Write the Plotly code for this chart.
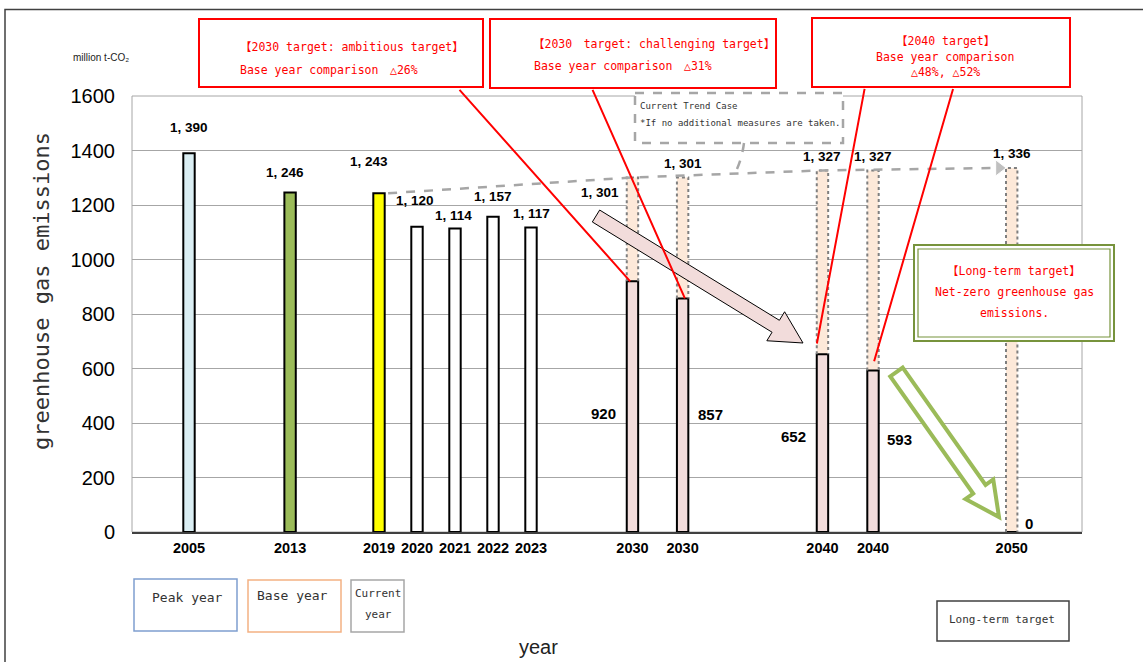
import math
import plotly.graph_objects as go

# ---------------- data ----------------
years = ["2005", "2013", "2019", "2020", "2021", "2022", "2023",
         "2030", "2030", "2040", "2040", "2050"]
emissions = [1390, 1246, 1243, 1120, 1114, 1157, 1117, 920, 857, 652, 593, 0]
trend_case = [1301, 1301, 1327, 1327, 1336]          # current trend case (2030, 2030, 2040, 2040, 2050)
trend_line_values = [1243, 1301, 1327, 1336]         # 2019 -> 2030 -> 2040 -> 2050
y_ticks = [0, 200, 400, 600, 800, 1000, 1200, 1400, 1600]

# ---------------- layout helpers (positions / styles) ----------------
slot = [1.5, 4.16, 6.5, 7.5, 8.5, 9.5, 10.5, 13.17, 14.49, 18.17, 19.5, 23.15]
trend_pos = slot[7:]
bar_fill = ["#DAEEF3", "#9BBB59", "#FFFF00", "#FFFFFF", "#FFFFFF", "#FFFFFF", "#FFFFFF",
            "#F2DCDB", "#F2DCDB", "#F2DCDB", "#F2DCDB", "#F2DCDB"]
BW = 0.3

W, H = 1143, 662
PL, PR, PT, PB = 132, 1082, 96, 532


def X(px):
    return (px - PL) / (PR - PL)


def Y(py):
    return (PB - py) / (PB - PT)


NUM = "Liberation Sans, Arial, sans-serif"
MONO = "DejaVu Sans Mono, Noto Sans CJK JP, monospace"
SANS = "Liberation Sans, Arial, sans-serif"
RED = "#FF0000"


def fmt(v):
    return f"{v // 1000}, {v % 1000:03d}" if v >= 1000 else str(v)


fig = go.Figure()

# trend-case background bars
fig.add_bar(x=trend_pos, y=trend_case, width=BW,
            marker=dict(color="#FDE9D9", line=dict(width=0), opacity=1),
            hoverinfo="skip")

# main bars
fig.add_bar(x=slot, y=emissions, width=BW,
            marker=dict(color=bar_fill, line=dict(color="#000000", width=2), opacity=1),
            hoverinfo="skip")

# dotted outlines of trend-case bars (from main bar top up to trend value)
ox, oy = [], []
for p, tv, mv in zip(trend_pos, trend_case, emissions[7:]):
    ox += [p - BW / 2, p - BW / 2, p + BW / 2, p + BW / 2, None]
    oy += [mv, tv, tv, mv, None]
fig.add_scatter(x=ox, y=oy, mode="lines",
                line=dict(color="#7F7F7F", width=2, dash="dot"),
                hoverinfo="skip", connectgaps=False)

# current trend line with arrow
tl_x = [slot[2] + 0.24, slot[7], slot[9], slot[11] - 0.33]
fig.add_scatter(x=tl_x, y=trend_line_values, mode="lines+markers",
                line=dict(color="#A6A6A6", width=2.5, dash="dash"),
                marker=dict(symbol=["circle", "circle", "circle", "triangle-right"],
                            size=[0, 0, 0, 14], color="#A6A6A6"),
                hoverinfo="skip")

annotations = []
LBL = dict(family=NUM, size=13.5, color="#000000", weight="bold")

# value labels above historical bars
top_shift = [(0, 26), (-5.5, 19.5), (-10.5, 32), (-2, 26), (-2, 12.5), (0, 20), (0, 14.5)]
for p, v, (dx, dy) in zip(slot[:7], emissions[:7], top_shift):
    annotations.append(dict(x=p, y=v, xref="x", yref="y", text=fmt(v), showarrow=False,
                            xshift=dx, yshift=dy, font=LBL))

# trend-case labels
trend_shift = [(-32, -15.5), (0, 13.5), (0, 13.5), (0, 13.5), (0, 14)]
for p, v, (dx, dy) in zip(trend_pos, trend_case, trend_shift):
    annotations.append(dict(x=p, y=v, xref="x", yref="y", text=fmt(v), showarrow=False,
                            xshift=dx, yshift=dy, font=LBL))

# target value labels
val_shift = [(-29, -6.4), (28, 1), (-29, 7), (26, 12), (17, 9)]
for p, v, (dx, dy) in zip(trend_pos, emissions[7:], val_shift):
    annotations.append(dict(x=p, y=v / 2, xref="x", yref="y", text=str(v), showarrow=False,
                            xshift=dx, yshift=dy,
                            font=dict(family=NUM, size=15, color="#000000", weight="bold")))

# red leader lines (tip at bar tops)
leaders = [(slot[7] - 0.06, emissions[7], -172, -193, 0),
           (slot[8] + 0.06, emissions[8], -93, -210, 0),
           (slot[9] - 0.2, emissions[9], 50, -267, 11),
           (slot[10] - 0.04, emissions[10], 82, -283, 9.5)]
for x, y, ax, ay, so in leaders:
    annotations.append(dict(x=x, y=y, xref="x", yref="y", text="", showarrow=True,
                            ax=ax, ay=ay, arrowhead=0, arrowwidth=2, arrowcolor=RED,
                            standoff=so, startstandoff=0))


def txt(px, py, text, size, color, family=MONO, anchor="center", weight="normal"):
    annotations.append(dict(x=X(px), y=Y(py), xref="paper", yref="paper", text=text,
                            showarrow=False, xanchor=anchor, yanchor="middle",
                            font=dict(family=family, size=size, color=color, weight=weight)))


# red callout texts
txt(238, 47, "【2030 target: ambitious target】", 11.5, RED, anchor="left")
txt(238, 70, "Base year comparison\u3000△26%", 11.5, RED, anchor="left")
txt(531, 44, "【2030\u3000target: challenging target】", 11.5, RED, anchor="left")
txt(532, 66, "Base year comparison\u3000△31%", 11.5, RED, anchor="left")
txt(945, 41, "【2040 target】", 11.5, RED)
txt(945, 57, "Base year comparison", 11.5, RED)
txt(945, 72, "△48%, △52%", 11.5, RED)

# current trend case box text
txt(638, 106, "Current Trend Case", 9, "#333333", anchor="left")
txt(638, 123, "*If no additional measures are taken.", 9, "#333333", anchor="left")

# long-term target box text
txt(1014, 271, "【Long-term target】", 11.5, RED)
txt(1014, 292, "Net-zero greenhouse gas", 11.5, RED)
txt(1014, 313, "emissions.", 11.5, RED)

# legend-like boxes
txt(187, 597, "Peak year", 13, "#333333")
txt(292, 595, "Base year", 13, "#333333")
txt(378, 593, "Current", 11, "#333333")
txt(378, 614, "year", 11, "#333333")
txt(1002, 619, "Long-term target", 11, "#333333")

# axis titles / unit
txt(101, 58, "million t-CO₂", 10, "#222222", family=SANS)
txt(538, 647, "year", 20, "#222222", family=SANS)
annotations.append(dict(x=X(41), y=Y(291), xref="paper", yref="paper",
                        text="greenhouse gas emissions", textangle=-90, showarrow=False,
                        xanchor="center", yanchor="middle",
                        font=dict(family=MONO, size=22, color="#333333")))

# ---------------- shapes ----------------
shapes = []


def rect(x0, y0, x1, y1, color, width=2, fill="rgba(0,0,0,0)", dash="solid", layer="above"):
    shapes.append(dict(type="rect", xref="paper", yref="paper",
                       x0=X(x0), y0=Y(y0), x1=X(x1), y1=Y(y1),
                       line=dict(color=color, width=width, dash=dash),
                       fillcolor=fill, layer=layer))


def poly(points, color, width, fill):
    path = "M " + " L ".join(f"{X(a):.5f},{Y(b):.5f}" for a, b in points) + " Z"
    shapes.append(dict(type="path", xref="paper", yref="paper", path=path,
                       line=dict(color=color, width=width), fillcolor=fill, layer="above"))


def arrow_pts(tail, tip, half_shaft, half_head, head_len):
    dx, dy = tip[0] - tail[0], tip[1] - tail[1]
    L = math.hypot(dx, dy)
    ux, uy = dx / L, dy / L
    nx, ny = -uy, ux
    hb = (tip[0] - ux * head_len, tip[1] - uy * head_len)
    return [(tail[0] - nx * half_shaft, tail[1] - ny * half_shaft),
            (hb[0] - nx * half_shaft, hb[1] - ny * half_shaft),
            (hb[0] - nx * half_head, hb[1] - ny * half_head),
            tip,
            (hb[0] + nx * half_head, hb[1] + ny * half_head),
            (hb[0] + nx * half_shaft, hb[1] + ny * half_shaft),
            (tail[0] + nx * half_shaft, tail[1] + ny * half_shaft)]


# outer frame
rect(5, 9.5, 1170, 690, "#404040", width=1.5)
# plot area border
rect(PL, PT, PR, PB, "#A6A6A6", width=1, layer="below")

# red callout boxes
rect(199, 19, 483, 87, RED, width=2, fill="#FFFFFF")
rect(490, 19, 776, 88, RED, width=2, fill="#FFFFFF")
rect(812, 18, 1070, 87, RED, width=2, fill="#FFFFFF")

# current trend case box + connector
rect(635, 93, 843, 143, "#A6A6A6", width=2.5, fill="#FFFFFF", dash="dash")
shapes.append(dict(type="path", xref="paper", yref="paper",
                   path=f"M {X(744):.5f},{Y(143):.5f} Q {X(742):.5f},{Y(158):.5f} {X(737):.5f},{Y(169):.5f}",
                   line=dict(color="#A6A6A6", width=2.5, dash="dash")))

# pink arrow
poly(arrow_pts((596, 216), (803, 343), 7, 17, 32), "#000000", 1, "#F2DCDB")
# green arrow
poly(arrow_pts((896.5, 372), (999, 517), 7.6, 17, 34), "#9BBB59", 4, "#FFFFFF")

# long-term target double-bordered box
rect(914, 245, 1114, 341, "#77933C", width=2, fill="#FFFFFF")
rect(918, 249, 1110, 337, "#77933C", width=1.2)

# legend-like boxes
rect(134, 579, 237, 631, "#7F9FD0", width=1.5, fill="#FFFFFF")
rect(248, 580, 341, 632, "#F4B183", width=1.5, fill="#FFFFFF")
rect(351, 580, 404, 632, "#A6A6A6", width=1.5, fill="#FFFFFF")
rect(937, 601, 1069, 641, "#404040", width=1.5, fill="#FFFFFF")

fig.update_layout(
    width=W, height=H,
    margin=dict(l=PL, r=W - PR, t=PT, b=H - PB, pad=0),
    paper_bgcolor="#FFFFFF", plot_bgcolor="#FFFFFF",
    barmode="overlay", showlegend=False,
    annotations=annotations, shapes=shapes,
    xaxis=dict(range=[0, 25], tickmode="array", tickvals=slot, ticktext=years,
               tickangle=0,
               tickfont=dict(family=NUM, size=14.5, color="#000000", weight="bold"),
               showgrid=False, zeroline=False, showline=True, linecolor="#404040", linewidth=2,
               ticks="", ticklabelstandoff=2, fixedrange=True),
    yaxis=dict(range=[0, 1600], tickmode="array", tickvals=y_ticks,
               ticktext=[str(t) for t in y_ticks],
               tickfont=dict(family=NUM, size=20, color="#000000"),
               showgrid=True, gridcolor="#A6A6A6", gridwidth=1, zeroline=False,
               showline=False, ticks="", ticklabelstandoff=16, fixedrange=True),
)

fig.write_html("out.html")
